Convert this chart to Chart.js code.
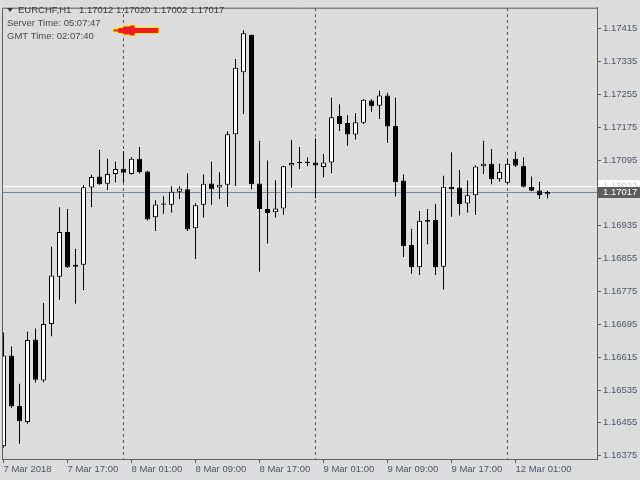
<!DOCTYPE html>
<html>
<head>
<meta charset="utf-8">
<script src="https://cdn.jsdelivr.net/npm/chart.js@4.4.1/dist/chart.umd.min.js"></script>
<style>
  html, body { margin: 0; padding: 0; background: #dcdcdc; }
  canvas { display: block; }
</style>
</head>
<body>
<canvas id="myChart" width="640" height="480"></canvas>
<script>
// EURCHF H1 candles, 7 Mar 2018 09:00 -> 12 Mar 2018 05:00
const opens = [
  1.16398, 1.16619, 1.16496, 1.16457, 1.16658, 1.16558, 1.16696, 1.16811, 1.16920, 1.16835,
  1.16840, 1.17028, 1.17055, 1.17037, 1.17061, 1.17074, 1.17061, 1.17098, 1.17067, 1.16956,
  1.16989, 1.16986, 1.17018, 1.17024, 1.16929, 1.16986, 1.17038, 1.17028, 1.17035, 1.17158,
  1.17309, 1.17400, 1.17038, 1.16976, 1.16968, 1.16977, 1.17082, 1.17091, 1.17091, 1.17089,
  1.17078, 1.17089, 1.17202, 1.17185, 1.17157, 1.17186, 1.17240, 1.17227, 1.17252, 1.17178,
  1.17045, 1.16888, 1.16834, 1.16949, 1.16949, 1.16835, 1.17030, 1.17028, 1.16989, 1.17009,
  1.17080, 1.17086, 1.17048, 1.17040, 1.17098, 1.17081, 1.17030, 1.17021, 1.17012
];
const highs = [
  1.16675, 1.16641, 1.16550, 1.16677, 1.16685, 1.16747, 1.16884, 1.16980, 1.16976, 1.16879,
  1.17034, 1.17059, 1.17120, 1.17098, 1.17091, 1.17117, 1.17102, 1.17127, 1.17069, 1.16997,
  1.17007, 1.17031, 1.17031, 1.17062, 1.16990, 1.17060, 1.17091, 1.17065, 1.17165, 1.17341,
  1.17411, 1.17401, 1.17142, 1.17094, 1.17046, 1.17081, 1.17144, 1.17127, 1.17101, 1.17148,
  1.17110, 1.17247, 1.17231, 1.17204, 1.17209, 1.17243, 1.17243, 1.17264, 1.17259, 1.17247,
  1.17060, 1.16928, 1.16971, 1.16976, 1.16988, 1.17057, 1.17114, 1.17071, 1.17045, 1.17082,
  1.17142, 1.17122, 1.17086, 1.17098, 1.17115, 1.17101, 1.17055, 1.17042, 1.17020
];
const lows = [
  1.16395, 1.16492, 1.16404, 1.16453, 1.16553, 1.16554, 1.16666, 1.16755, 1.16832, 1.16745,
  1.16778, 1.16980, 1.17035, 1.17022, 1.17041, 1.17041, 1.17060, 1.17062, 1.16948, 1.16922,
  1.16964, 1.16967, 1.17000, 1.16922, 1.16854, 1.16955, 1.16986, 1.17000, 1.16981, 1.17032,
  1.17207, 1.17024, 1.16823, 1.16892, 1.16955, 1.16962, 1.17028, 1.17073, 1.17080, 1.17002,
  1.17053, 1.17063, 1.17166, 1.17130, 1.17145, 1.17183, 1.17212, 1.17195, 1.17137, 1.17006,
  1.16859, 1.16818, 1.16815, 1.16890, 1.16815, 1.16780, 1.16957, 1.16960, 1.16967, 1.16962,
  1.17061, 1.17036, 1.17042, 1.17036, 1.17078, 1.17029, 1.17019, 1.17000, 1.17002
];
const closes = [
  1.16619, 1.16495, 1.16459, 1.16657, 1.16560, 1.16696, 1.16814, 1.16920, 1.16834, 1.16840,
  1.17029, 1.17054, 1.17036, 1.17061, 1.17073, 1.17064, 1.17098, 1.17065, 1.16950, 1.16987,
  1.16986, 1.17018, 1.17026, 1.16926, 1.16985, 1.17037, 1.17024, 1.17035, 1.17158, 1.17320,
  1.17404, 1.17036, 1.16976, 1.16966, 1.16977, 1.17080, 1.17088, 1.17087, 1.17088, 1.17082,
  1.17089, 1.17199, 1.17183, 1.17157, 1.17187, 1.17242, 1.17226, 1.17252, 1.17177, 1.17041,
  1.16885, 1.16834, 1.16947, 1.16945, 1.16834, 1.17030, 1.17024, 1.16988, 1.17009, 1.17079,
  1.17086, 1.17048, 1.17066, 1.17086, 1.17081, 1.17030, 1.17020, 1.17010, 1.17017
];

// time axis: bar index of each label, and the text
const timeTickIdx = [0, 8, 16, 24, 32, 40, 48, 56, 64];
const timeTickLabels = ['7 Mar 2018', '7 Mar 17:00', '8 Mar 01:00', '8 Mar 09:00', '8 Mar 17:00',
  '9 Mar 01:00', '9 Mar 09:00', '9 Mar 17:00', '12 Mar 01:00'];
// day separators (00:00 bars)
const daySepIdx = [15, 39, 63];

// price axis
const priceTicks = [1.16375, 1.16455, 1.16535, 1.16615, 1.16695, 1.16775, 1.16855,
  1.16935, 1.17015, 1.17095, 1.17175, 1.17255, 1.17335, 1.17415];
const askPrice = 1.17033;

const symbolName = 'EURCHF,H1';
const serverTime = 'Server Time: 05:07:47';
const gmtTime = 'GMT Time: 02:07:40';

const FONT = "'Liberation Sans', Arial, sans-serif";
const axisColor = '#5f5f5f';
const labelColor = '#4e5668';

const last = closes.length - 1;
const bidPrice = closes[last];

//#################################################### datasets

let bodies = [];
let wicks = [];
let bodyColors = [];
for (let i = 0; i < opens.length; i++) {
  bodies.push({ x: i, y: [opens[i], closes[i]] });
  wicks.push({ x: i, y: [lows[i], highs[i]] });
  bodyColors.push(closes[i] >= opens[i] ? '#ffffff' : '#000000');
}

//#################################################### overlay: header, price lines, arrow

// stepped arrow outline (pointing left)
const arrowPts = [
  [113, 29], [118, 29], [118, 27.5], [123, 27.5], [123, 26], [130, 26], [130, 25], [135, 25],
  [135, 27.5], [159, 27.5], [159, 33.5], [135, 33.5], [135, 36], [130, 36], [130, 35],
  [123, 35], [123, 33.5], [118, 33.5], [118, 32], [113, 32]
];

const overlay = {
  id: 'overlay',
  beforeDatasetsDraw(chart) {
    const ctx = chart.ctx;
    const area = chart.chartArea;
    const y = chart.scales.y;
    ctx.save();
    // ask line
    let ya = Math.round(y.getPixelForValue(askPrice)) + 0.5;
    ctx.strokeStyle = '#ffffff';
    ctx.lineWidth = 1;
    ctx.beginPath(); ctx.moveTo(area.left, ya); ctx.lineTo(area.right, ya); ctx.stroke();
    // bid line
    let yb = Math.round(y.getPixelForValue(bidPrice)) + 0.5;
    ctx.strokeStyle = '#778899';
    ctx.beginPath(); ctx.moveTo(area.left, yb); ctx.lineTo(area.right, yb); ctx.stroke();
    ctx.restore();
  },
  afterDraw(chart) {
    const ctx = chart.ctx;
    const area = chart.chartArea;
    const y = chart.scales.y;
    ctx.save();

    // left and top frame
    ctx.strokeStyle = axisColor;
    ctx.lineWidth = 1;
    ctx.beginPath();
    ctx.moveTo(area.left + 0.5, area.bottom);
    ctx.lineTo(area.left + 0.5, area.top + 0.5);
    ctx.lineTo(area.right, area.top + 0.5);
    ctx.stroke();

    // price labels on the axis
    let ya = Math.round(y.getPixelForValue(askPrice));
    let yb = Math.round(y.getPixelForValue(bidPrice));
    ctx.font = '9.5px ' + FONT;
    ctx.textBaseline = 'middle';
    ctx.fillStyle = '#ffffff';
    ctx.fillRect(area.right + 1, ya - 6, 640 - area.right, 8);
    ctx.fillStyle = '#cfcfcf';
    ctx.fillText(askPrice.toFixed(5), area.right + 6, ya);
    ctx.fillStyle = '#5c5c5c';
    ctx.fillRect(area.right + 1, yb - 5, 640 - area.right, 11);
    ctx.fillStyle = '#ffffff';
    ctx.fillText(bidPrice.toFixed(5), area.right + 6, yb + 0.5);

    // header
    ctx.fillStyle = '#3a3a3a';
    ctx.beginPath();
    ctx.moveTo(7, 8); ctx.lineTo(13, 8); ctx.lineTo(10, 12); ctx.closePath(); ctx.fill();
    ctx.textBaseline = 'middle';
    ctx.fillText(symbolName, 18, 10);
    ctx.fillText([opens[last], highs[last], lows[last], closes[last]].map(v => v.toFixed(5)).join(' '), 79, 10);
    ctx.fillStyle = '#4a4a4a';
    ctx.fillText(serverTime, 7, 23);
    ctx.fillText(gmtTime, 7, 36);

    // red arrow
    ctx.fillStyle = '#ee1d24';
    ctx.strokeStyle = '#ffee00';
    ctx.lineWidth = 1;
    ctx.beginPath();
    arrowPts.forEach((p, k) => { if (k == 0) ctx.moveTo(p[0], p[1]); else ctx.lineTo(p[0], p[1]); });
    ctx.closePath();
    ctx.fill();
    ctx.stroke();
    ctx.restore();
  }
};

//#################################################### chart

const xMin = -0.1875;
const xMax = xMin + 595 / 8;

const config = {
  type: 'bar',
  data: {
    datasets: [
      {
        label: 'body',
        data: bodies,
        backgroundColor: bodyColors,
        borderColor: '#000000',
        borderWidth: 1,
        borderSkipped: false,
        barThickness: 5,
        grouped: false,
        inflateAmount: 0
      },
      {
        label: 'wick',
        data: wicks,
        backgroundColor: '#000000',
        borderWidth: 0,
        barThickness: 1,
        grouped: false,
        inflateAmount: 0
      }
    ]
  },
  options: {
    responsive: false,
    animation: false,
    devicePixelRatio: 1,
    layout: { padding: { top: 2, left: 2, right: 0, bottom: 0 } },
    plugins: {
      legend: { display: false },
      tooltip: { enabled: false }
    },
    scales: {
      x: {
        type: 'linear',
        position: 'bottom',
        offset: false,
        min: xMin,
        max: xMax,
        afterBuildTicks: (scale) => { scale.ticks = timeTickIdx.map(v => ({ value: v })); },
        afterFit: (scale) => { scale.height = 21; },
        ticks: {
          align: 'start',
          maxRotation: 0,
          autoSkip: false,
          padding: 1,
          color: labelColor,
          font: { family: FONT, size: 9.5 },
          callback: (value) => timeTickLabels[timeTickIdx.indexOf(value)]
        },
        grid: { offset: false, drawOnChartArea: false, drawTicks: true, tickLength: 4, color: axisColor },
        border: { display: true, color: axisColor }
      },
      xd: {
        type: 'linear',
        position: 'top',
        offset: false,
        min: xMin,
        max: xMax,
        afterBuildTicks: (scale) => { scale.ticks = daySepIdx.map(v => ({ value: v })); },
        afterFit: (scale) => { scale.height = 0; },
        ticks: { display: false },
        grid: { offset: false, drawOnChartArea: true, drawTicks: false, color: '#555555' },
        border: { display: false, dash: [3, 3] }
      },
      y: {
        type: 'linear',
        position: 'right',
        min: 1.16367,
        max: 1.17466,
        afterBuildTicks: (scale) => { scale.ticks = priceTicks.map(v => ({ value: v })); },
        afterFit: (scale) => { scale.width = 43; },
        ticks: {
          padding: 2,
          color: labelColor,
          font: { family: FONT, size: 9.5 },
          callback: (value) => value.toFixed(5)
        },
        grid: { drawOnChartArea: false, drawTicks: true, tickLength: 4, color: axisColor },
        border: { display: true, color: axisColor }
      }
    }
  },
  plugins: [overlay]
};

const myChart = new Chart(document.getElementById('myChart'), config);
</script>
</body>
</html>
